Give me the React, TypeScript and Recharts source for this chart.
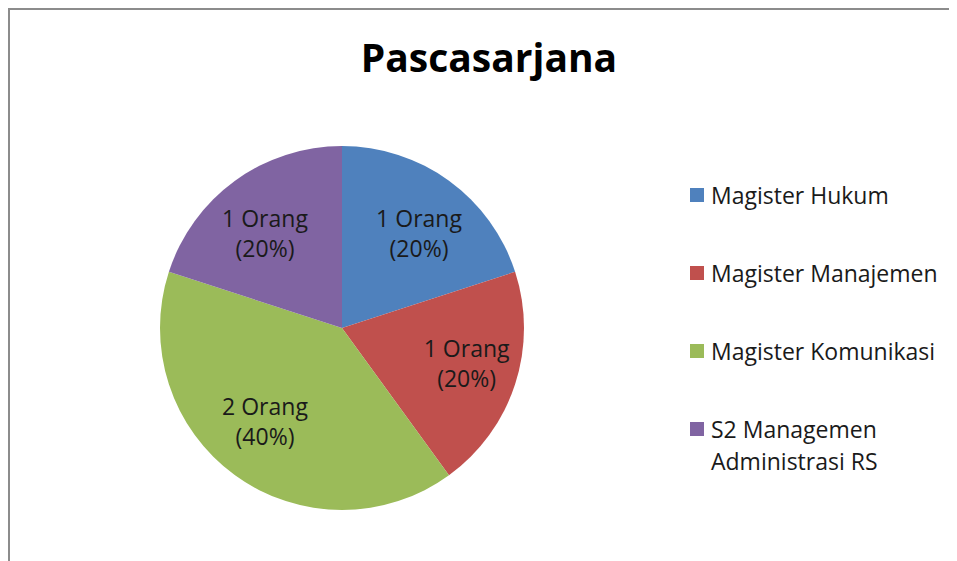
import { PieChart, Pie, Cell, Legend } from "recharts";

const programs = [
  "Magister Hukum",
  "Magister Manajemen",
  "Magister Komunikasi",
  "S2 Managemen Administrasi RS",
];
const counts = [1, 1, 2, 1];
const colors = ["#4F81BD", "#C0504D", "#9BBB59", "#8064A2"];
const title = "Pascasarjana";

const FONT = "'Open Sans', Lato, sans-serif";
const RAD = Math.PI / 180;

const rows = programs.map((name, i) => ({ name, value: counts[i] }));

// labels sit a bit wider than tall, like the original's best-fit placement
function SliceLabel(props: any) {
  const { cx, cy, midAngle, outerRadius, value, percent } = props;
  const x = cx + outerRadius * 0.72 * Math.cos(-midAngle * RAD);
  const y = cy + outerRadius * 0.64 * Math.sin(-midAngle * RAD);
  return (
    <text x={x} y={y} textAnchor="middle" fill="#1a1a1a" fontSize={23} fontFamily={FONT}>
      <tspan x={x} dy={-7}>{value} Orang</tspan>
      <tspan x={x} dy={30}>({Math.round(percent * 100)}%)</tspan>
    </text>
  );
}

function LegendList() {
  return (
    <div style={{ fontFamily: FONT, fontSize: 23, color: "#1a1a1a" }}>
      {programs.map((p, i) => (
        <div
          key={p}
          style={{ display: "flex", alignItems: "flex-start", lineHeight: "32px", marginBottom: 46 }}
        >
          <span
            style={{ width: 14, height: 14, background: colors[i], marginTop: 9, marginRight: 7, flex: "none" }}
          />
          <span style={{ width: 250 }}>{p}</span>
        </div>
      ))}
    </div>
  );
}

export default function App() {
  return (
    <div
      style={{
        position: "relative",
        width: 949,
        height: 553,
        boxSizing: "border-box",
        borderLeft: "2px solid #8c8c8c",
        borderTop: "2px solid #8c8c8c",
        background: "#fff",
      }}
    >
      <div
        style={{
          position: "absolute",
          left: 479,
          top: 29,
          transform: "translateX(-50%)",
          fontFamily: FONT,
          fontWeight: 700,
          fontSize: 39,
          lineHeight: "36px",
          color: "#000",
          whiteSpace: "nowrap",
        }}
      >
        {title}
      </div>
      <PieChart width={947} height={551} margin={{ top: 0, right: 0, bottom: 0, left: 0 }}>
        <Pie
          data={rows}
          dataKey="value"
          nameKey="name"
          cx={332}
          cy={318}
          outerRadius={182}
          startAngle={90}
          endAngle={-270}
          stroke="none"
          label={SliceLabel}
          labelLine={false}
          isAnimationActive={false}
        >
          {rows.map((r, i) => (
            <Cell key={r.name} fill={colors[i]} />
          ))}
        </Pie>
        <Legend
          content={() => <LegendList />}
          wrapperStyle={{ position: "absolute", left: 680, top: 169, width: 280 }}
        />
      </PieChart>
    </div>
  );
}
